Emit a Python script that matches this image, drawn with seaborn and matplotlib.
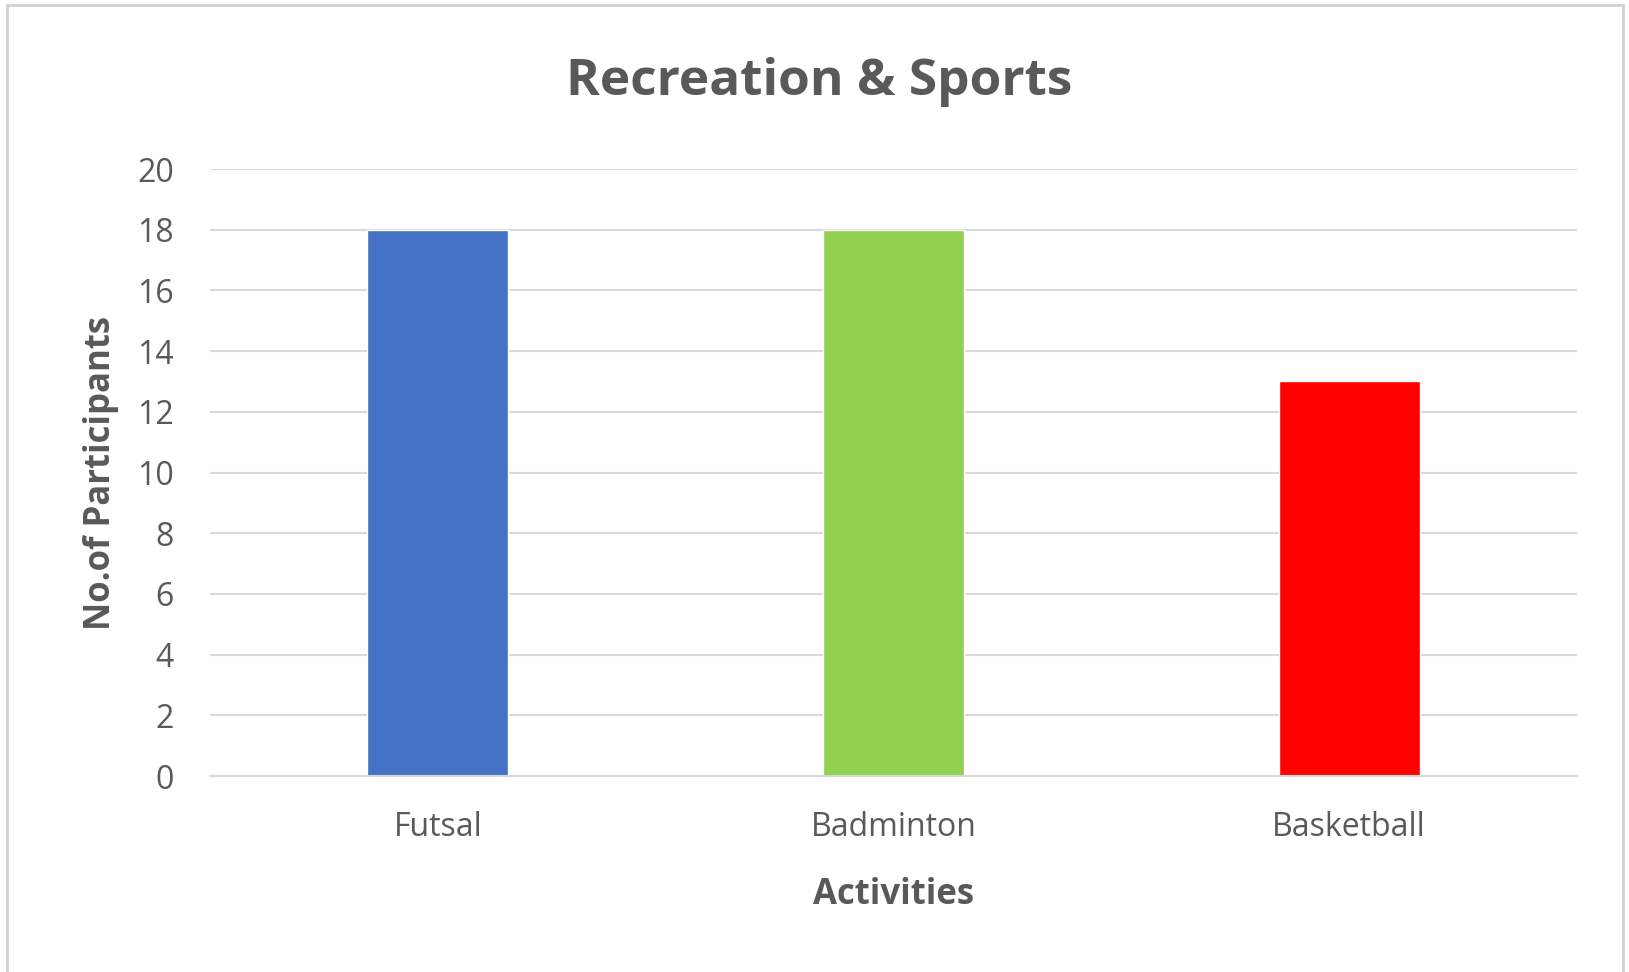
import numpy as np
import pandas as pd
import seaborn as sns
import matplotlib.pyplot as plt
from matplotlib.patches import Rectangle

sns.set_theme(style='white')
plt.rcParams['font.family'] = ['Open Sans', 'DejaVu Sans']

# data
activities = ['Futsal', 'Badminton', 'Basketball']
participants = [18, 18, 13]
bar_colors = ['#4472C4', '#92D050', '#FF0000']

df = pd.DataFrame({'Activities': activities, 'No.of Participants': participants})

text_c = '#595959'
W, H = 1629, 972
fig = plt.figure(figsize=(W / 100, H / 100), dpi=100)
ax = fig.add_axes([210 / W, 1 - 776 / H, (1577 - 210) / W, (776 - 169) / H])

sns.barplot(data=df, x='Activities', y='No.of Participants', hue='Activities',
            palette=bar_colors, width=0.31, legend=False, ax=ax, saturation=1)

# axes
ax.set_ylim(0, 20)
ax.set_yticks(np.arange(0, 21, 2))
ax.set_xlim(-0.5, 2.5)
ax.yaxis.grid(True, color='#d9d9d9', lw=1.5)
ax.set_axisbelow(True)
for s in ['top', 'right', 'left']:
    ax.spines[s].set_visible(False)
ax.spines['bottom'].set_color('#d9d9d9')
ax.spines['bottom'].set_linewidth(1.5)
ax.tick_params(axis='both', length=0, labelsize=23, colors=text_c)
ax.tick_params(axis='y', pad=26)
ax.tick_params(axis='x', pad=25)

# labels
ax.set_xlabel('Activities', fontsize=25, fontweight='bold', color=text_c, labelpad=24)
ax.set_ylabel('No.of Participants', fontsize=25, fontweight='bold', color=text_c, labelpad=13)
fig.text(0.503, 1 - 82 / H, 'Recreation & Sports', ha='center', va='center',
         fontsize=37, fontweight='bold', color=text_c)

# chart border
fig.patches.append(Rectangle((7 / W, -0.01), (1623 - 7) / W, 1 - 5 / H + 0.01,
                             transform=fig.transFigure, fill=False,
                             edgecolor='#d0d0d0', lw=2))

plt.savefig('out.png', dpi=100)
plt.close()
